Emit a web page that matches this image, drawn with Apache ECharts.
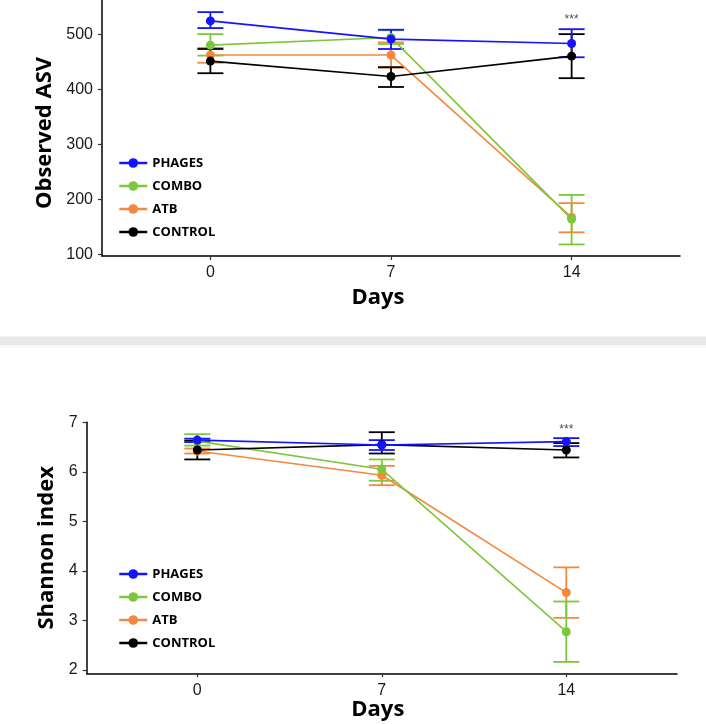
<!DOCTYPE html>
<html>
<head>
<meta charset="utf-8">
<script src="https://cdn.jsdelivr.net/npm/echarts@6/dist/echarts.min.js"></script>
<style>html,body{margin:0;padding:0;background:#fff;}#c{width:706px;height:724px;}</style>
</head>
<body>
<div id="c"></div>
<script>
const days = [0, 7, 14];
const groups = ['PHAGES', 'COMBO', 'ATB', 'CONTROL'];
const dayTicks = [0, 7, 14];
const asvTicks = [100, 200, 300, 400, 500];
const shTicks = [2, 3, 4, 5, 6, 7];

// Observed ASV (mean, lower, upper)
const asvPhages = [524, 491, 483];
const asvPhagesLo = [511, 473, 458];
const asvPhagesHi = [540, 508, 509];
const asvCombo = [480, 494, 164];
const asvComboLo = [461, 482, 118];
const asvComboHi = [500, 507, 208];
const asvAtb = [462, 462, 167];
const asvAtbLo = [448, 439, 140];
const asvAtbHi = [475, 485, 193];
const asvControl = [451, 423, 460];
const asvControlLo = [429, 404, 420];
const asvControlHi = [473, 440, 500];

// Shannon index (mean, lower, upper)
const shPhages = [6.64, 6.54, 6.61];
const shPhagesLo = [6.60, 6.44, 6.52];
const shPhagesHi = [6.67, 6.64, 6.68];
const shCombo = [6.62, 6.05, 2.77];
const shComboLo = [6.53, 5.82, 2.16];
const shComboHi = [6.76, 6.25, 3.38];
const shAtb = [6.42, 5.93, 3.56];
const shAtbLo = [6.37, 5.73, 3.05];
const shAtbHi = [6.47, 6.12, 4.07];
const shControl = [6.44, 6.55, 6.44];
const shControlLo = [6.25, 6.37, 6.29];
const shControlHi = [6.63, 6.80, 6.58];

const sigLabel = '***';
const sigDay = 14;
const sigAsv = 526;
const sigSh = 6.85;

const colors = { PHAGES: '#1414ff', COMBO: '#7cc83a', ATB: '#f3883e', CONTROL: '#000000' };

const asv = {
  PHAGES: [asvPhages, asvPhagesLo, asvPhagesHi],
  COMBO: [asvCombo, asvComboLo, asvComboHi],
  ATB: [asvAtb, asvAtbLo, asvAtbHi],
  CONTROL: [asvControl, asvControlLo, asvControlHi]
};
const sh = {
  PHAGES: [shPhages, shPhagesLo, shPhagesHi],
  COMBO: [shCombo, shComboLo, shComboHi],
  ATB: [shAtb, shAtbLo, shAtbHi],
  CONTROL: [shControl, shControlLo, shControlHi]
};

const drawOrder = ['ATB', 'COMBO', 'CONTROL', 'PHAGES'];

function errRender(color) {
  return function (params, api) {
    const x = api.value(0);
    const lo = api.coord([x, api.value(1)]);
    const hi = api.coord([x, api.value(2)]);
    const hw = 13;
    const style = { stroke: color, lineWidth: 1.8 };
    return {
      type: 'group',
      children: [
        { type: 'line', shape: { x1: lo[0], y1: lo[1], x2: hi[0], y2: hi[1] }, style },
        { type: 'line', shape: { x1: lo[0] - hw, y1: lo[1], x2: lo[0] + hw, y2: lo[1] }, style },
        { type: 'line', shape: { x1: hi[0] - hw, y1: hi[1], x2: hi[0] + hw, y2: hi[1] }, style }
      ]
    };
  };
}

const series = [];
[[asv, 0], [sh, 1]].forEach(([src, gi]) => {
  drawOrder.forEach(g => {
    const [m, lo, hi] = src[g];
    series.push({
      name: g + '_err', type: 'custom', xAxisIndex: gi, yAxisIndex: gi,
      renderItem: errRender(colors[g]),
      encode: { x: 0, y: [1, 2] },
      data: days.map((d, i) => [d, lo[i], hi[i]]),
      z: 2, silent: true
    });
  });
  drawOrder.forEach(g => {
    const [m] = src[g];
    series.push({
      name: g, type: 'line', xAxisIndex: gi, yAxisIndex: gi,
      data: days.map((d, i) => [d, m[i]]),
      symbol: 'circle', symbolSize: 9,
      lineStyle: { color: colors[g], width: 1.6 },
      itemStyle: { color: colors[g] },
      z: 3, animation: false
    });
  });
});
series.push({
  type: 'scatter', xAxisIndex: 0, yAxisIndex: 0, symbolSize: 0,
  data: [[sigDay, sigAsv]],
  label: { show: true, position: 'inside', formatter: sigLabel, fontSize: 12, color: '#222', fontFamily: 'Liberation Sans' }
});
series.push({
  type: 'scatter', xAxisIndex: 1, yAxisIndex: 1, symbolSize: 0,
  data: [[sigDay, sigSh]],
  label: { show: true, position: 'inside', formatter: sigLabel, fontSize: 12, color: '#222', fontFamily: 'Liberation Sans' }
});

const axisLineStyle = { show: true, onZero: false, lineStyle: { color: '#000', width: 1.5 } };
const tickStyle = { show: true, length: 4, lineStyle: { color: '#333', width: 1.2 } };
const labelFont = { fontFamily: 'Liberation Sans', fontSize: 16, color: '#1a1a1a' };
const nameFont = { fontFamily: 'Open Sans', fontWeight: 'bold', fontSize: 22, color: '#000' };

function xAx(gi, gap, pad) {
  return {
    type: 'value', gridIndex: gi, min: -4.2, max: 18.2,
    name: 'Days', nameLocation: 'middle', nameGap: gap,
    nameTextStyle: Object.assign({ padding: pad }, nameFont),
    axisLine: axisLineStyle,
    axisTick: Object.assign({ customValues: dayTicks }, tickStyle),
    axisLabel: Object.assign({ customValues: dayTicks, margin: 9 }, labelFont),
    splitLine: { show: false }
  };
}
function yAx(gi, name, min, max, ticks, gap, pad) {
  return {
    type: 'value', gridIndex: gi, min: min, max: max,
    name: name, nameLocation: 'middle', nameGap: gap,
    nameTextStyle: Object.assign({ padding: pad }, nameFont),
    axisLine: axisLineStyle,
    axisTick: Object.assign({ customValues: ticks }, tickStyle),
    axisLabel: Object.assign({ customValues: ticks, margin: 9 }, labelFont),
    splitLine: { show: false }
  };
}

const legendBase = {
  orient: 'vertical', left: 113,
  data: ['PHAGES', 'COMBO', 'ATB', 'CONTROL'],
  itemWidth: 28, itemHeight: 12, itemGap: 9,
  lineStyle: { width: 2.5 },
  textStyle: { fontFamily: 'Open Sans', fontWeight: 'bold', fontSize: 13, color: '#000', lineHeight: 14 }
};

const option = {
  backgroundColor: '#ffffff',
  animation: false,
  grid: [
    { left: 102, top: 0, width: 578, height: 256 },
    { left: 86.6, top: 422.3, width: 590.4, height: 251 }
  ],
  xAxis: [xAx(0, 31, [0, 26, 0, 0]), xAx(1, 19, [0, 8, 0, 0])],
  yAxis: [
    yAx(0, 'Observed ASV', 97, 562, asvTicks, 42, [0, 10, 0, 0]),
    yAx(1, 'Shannon index', 1.93, 7, shTicks, 27, [0, 0, 0, 0])
  ],
  legend: [
    Object.assign({ top: 151 }, legendBase),
    Object.assign({ top: 562, itemGap: 9.5 }, legendBase)
  ],
  graphic: [
    { type: 'rect', shape: { x: 0, y: 336, width: 706, height: 1 }, style: { fill: '#f2f2f2' }, silent: true },
    { type: 'rect', shape: { x: 0, y: 337, width: 706, height: 8 }, style: { fill: '#e9e9e9' }, silent: true },
    { type: 'rect', shape: { x: 0, y: 345, width: 706, height: 3 }, style: { fill: '#f7f7f7' }, silent: true }
  ],
  series: series
};

const chart = echarts.init(document.getElementById('c'), null, { renderer: 'canvas' });
chart.setOption(option);
</script>
</body>
</html>
